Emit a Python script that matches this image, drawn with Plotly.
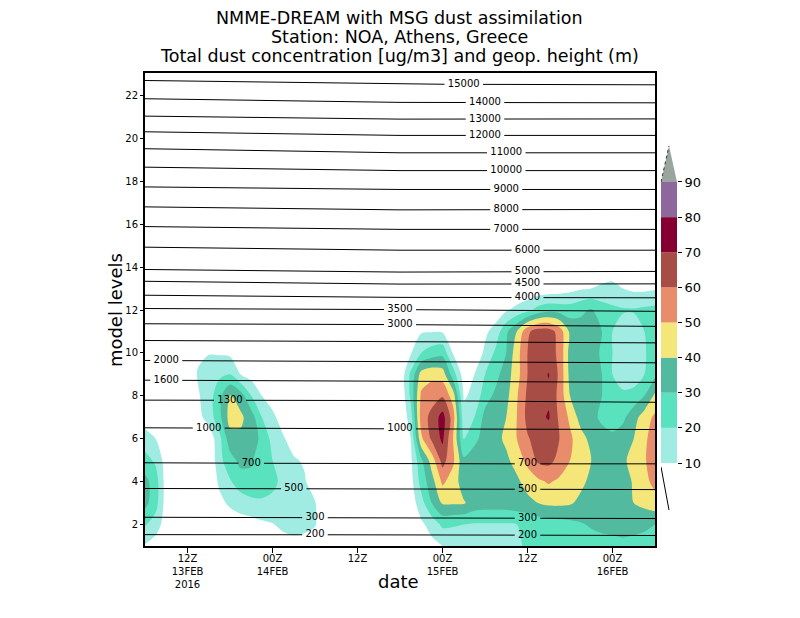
import numpy as np
import plotly.graph_objects as go

# ---- dust concentration (ug/m3), rows = model level 1..14, every 1.5 h from 06Z 13FEB
hours = np.arange(0, 72.1, 1.5)
model_levels = list(range(1, 15))

dust_l01 = [9, 5, 2, 0, 0, 0, 0, 0, 1, 2, 3, 4, 5, 6, 7, 7, 6, 3, 0, 0, 0, 0, 0, 0, 0,
            0, 3, 7, 10, 12, 13, 14, 15, 16, 17, 19, 21, 22, 22, 23, 24, 25, 26, 27, 27, 28, 28, 28, 28]
dust_l02 = [21, 15, 5, 1, 0, 0, 0, 1, 3, 5, 6, 8, 9.5, 12, 13, 12, 10.5, 5, 1, 0, 0, 0, 0, 0, 0,
            2, 8, 14, 22, 21, 20, 19, 19, 19, 19, 20, 22, 24, 25, 26, 27, 29, 31, 32, 33, 33, 32, 31, 30]
dust_l03 = [33, 24, 5, 1, 0, 1, 3, 7, 12, 15, 17, 18, 17, 16, 14, 13, 10.5, 5, 1, 0, 0, 0, 0, 0, 0,
            4, 16, 30, 41, 41, 41, 36, 35, 35, 35, 36, 37, 40, 42, 42, 41, 38, 36, 35, 35, 37, 40, 43, 46]
dust_l04 = [33, 25, 5, 1, 0, 0, 0, 12, 19, 25, 28, 27, 23, 17, 13, 11, 5, 1, 0, 0, 0, 0, 0, 0, 0,
            6, 24, 36, 52, 45, 35, 34, 33, 33, 34, 38, 44, 48, 51, 48, 45, 42, 38, 34, 33, 36, 41, 47, 53]
dust_l05 = [24, 18, 5, 1, 0, 0, 0, 17, 26, 33, 31, 25, 20, 15, 11, 9, 4, 1, 0, 0, 0, 0, 0, 0, 0,
            8, 28, 45, 64, 52, 32, 34, 35, 36, 38, 44, 53, 62, 63, 57, 50, 45, 40, 35, 35, 38, 44, 49, 55]
dust_l06 = [14, 10, 3, 0, 0, 1, 3, 17, 36, 38, 36, 27, 17, 11, 6, 3, 1, 0, 0, 0, 0, 0, 0, 0, 0,
            10, 48, 62, 72, 50, 19, 28, 33, 37, 42, 50, 59, 64, 63, 60, 52, 44, 37, 34, 33, 35, 40, 48, 55]
dust_l07 = [5, 3, 1, 0, 0, 7, 14, 27, 44, 42, 35, 20, 12, 6, 3, 1, 0, 0, 0, 0, 0, 0, 0, 0, 0,
            15, 55, 63, 74, 55, 13, 20, 33, 36, 40, 50, 63, 67, 71, 58, 48, 36, 33, 28, 24, 28, 36, 45, 52]
dust_l08 = [2, 0, 0, 0, 2, 9, 15, 27, 41, 35, 20, 10, 6, 3, 1, 0, 0, 0, 0, 0, 0, 0, 0, 0, 0,
            22, 52, 56, 59, 45, 9, 12, 26, 32, 37, 49, 62, 66, 68, 57, 40, 35, 34, 30, 24, 22, 24, 30, 42]
dust_l09 = [0, 0, 0, 0, 3, 11, 15, 18, 20, 10, 6, 3, 1, 0, 0, 0, 0, 0, 0, 0, 0, 0, 0, 0, 2,
            22, 44, 47, 45, 25, 5, 10, 20, 27, 35, 46, 60, 66, 70.5, 58, 37, 34, 34, 30, 20, 15, 14, 20, 28]
dust_l10 = [0, 0, 0, 0, 1, 8, 9.5, 9, 8, 6, 4, 2, 1, 0, 0, 0, 0, 0, 0, 0, 0, 0, 0, 0, 3,
            9, 20, 25, 27, 9, 5, 3, 12, 22, 30, 46, 60, 66, 64, 58, 36, 33, 33, 29, 20, 14, 13, 19, 25]
dust_l11 = [0, 0, 0, 0, 0, 0, 0, 0, 0, 0, 0, 0, 0, 0, 0, 0, 0, 0, 0, 0, 0, 0, 0, 0, 0,
            5, 9, 9.5, 9, 2, 1, 0, 8, 14, 28, 40, 58, 65, 65, 56, 38, 34, 32, 30, 20, 15, 14, 20, 28]
dust_l12 = [0, 0, 0, 0, 0, 0, 0, 0, 0, 0, 0, 0, 0, 0, 0, 0, 0, 0, 0, 0, 0, 0, 0, 0, 0,
            0, 0, 0, 0, 0, 0, 0, 2, 4, 9, 13, 17, 24, 27, 26, 25, 28, 31, 25, 22, 21, 21, 22, 23]
dust_l13 = [0, 0, 0, 0, 0, 0, 0, 0, 0, 0, 0, 0, 0, 0, 0, 0, 0, 0, 0, 0, 0, 0, 0, 0, 0,
            0, 0, 0, 0, 0, 0, 0, 0, 0, 0, 1, 2, 3, 4, 5, 7, 9, 10, 12, 13, 10, 8, 8, 9]
dust_l14 = [0, 0, 0, 0, 0, 0, 0, 0, 0, 0, 0, 0, 0, 0, 0, 0, 0, 0, 0, 0, 0, 0, 0, 0, 0,
            0, 0, 0, 0, 0, 0, 0, 0, 0, 0, 0, 0, 0, 0, 0, 0, 0, 2, 3, 4, 3, 2, 1, 1]

dust = [dust_l01, dust_l02, dust_l03, dust_l04, dust_l05, dust_l06, dust_l07,
        dust_l08, dust_l09, dust_l10, dust_l11, dust_l12, dust_l13, dust_l14]

# ---- geopotential height contours: model level where each height sits at 0h, 36h, 72h
height_m = [200, 300, 500, 700, 1000, 1300, 1600, 2000, 2500, 3000, 3500, 4000,
            4500, 5000, 6000, 7000, 8000, 9000, 10000, 11000, 12000, 13000, 14000, 15000]
lev_00h = [1.53, 2.34, 3.68, 4.88, 6.51, 7.80, 8.73, 9.65, 10.58, 11.36, 12.07, 12.69,
           13.34, 13.89, 14.93, 15.89, 16.81, 17.74, 18.66, 19.52, 20.31, 21.04, 21.85, 22.70]
lev_36h = [1.52, 2.31, 3.66, 4.83, 6.46, 7.78, 8.68, 9.58, 10.52, 11.32, 12.02, 12.59,
           13.21, 13.77, 14.79, 15.76, 16.67, 17.62, 18.50, 19.33, 20.14, 20.90, 21.68, 22.53]
lev_72h = [1.49, 2.28, 3.63, 4.83, 6.43, 7.70, 8.63, 9.54, 10.47, 11.24, 11.94, 12.57,
           13.22, 13.80, 14.79, 15.76, 16.69, 17.62, 18.50, 19.33, 20.14, 20.91, 21.66, 22.50]
node_hours = [0, 36, 72]

label_height = [15000, 14000, 13000, 12000, 11000, 10000, 9000, 8000, 7000, 6000, 5000, 4500,
                4000, 3500, 3000, 2000, 1600, 1300, 1000, 1000, 700, 700, 500, 500, 300, 300, 200, 200]
label_hour = [45, 48, 48, 48, 51, 51, 51, 51, 51, 54, 54, 54,
              54, 36, 36, 3, 3, 12, 9, 36, 15, 54, 21, 54, 24, 54, 24, 54]

# ---- colour bar
cbar_levels = [10, 20, 30, 40, 50, 60, 70, 80, 90]
band_colors = ["#a0ece2", "#5ae1be", "#52ba9e", "#f5e67a", "#e88c6c", "#a84d45", "#850030", "#8e689c"]
under_color = "#ffffff"
over_color = "#9ba5a0"

x_tickvals = [6, 18, 30, 42, 54, 66]
x_ticktext = ["12Z<br>13FEB<br>2016", "00Z<br>14FEB", "12Z", "00Z<br>15FEB", "12Z", "00Z<br>16FEB"]
y_tickvals = [2, 4, 6, 8, 10, 12, 14, 16, 18, 20, 22]

FONT = "DejaVu Sans"
px_per_hour = 510 / 72.0

fig = go.Figure()

all_colors = [under_color] + band_colors + [over_color]
fig.add_trace(go.Contour(
    x=hours, y=model_levels, z=dust,
    contours=dict(start=10, end=90, size=10, coloring="fill", showlines=False),
    colorscale=[[i / 9, c] for i, c in enumerate(all_colors)],
    line=dict(width=0, smoothing=0.8),
    showscale=False, hoverinfo="skip",
))

# height lines with gaps where labels sit
line_x, line_y = [], []
for k, h in enumerate(height_m):
    ys = [lev_00h[k], lev_36h[k], lev_72h[k]]
    gaps = []
    for lh, lhr in zip(label_height, label_hour):
        if lh == h:
            half = (len(str(lh)) * 6.5 / 2 + 3) / px_per_hour
            gaps.append((lhr - half, lhr + half))
    gaps.sort()
    starts = [0] + [g[1] for g in gaps]
    ends = [g[0] for g in gaps] + [72]
    for a, b in zip(starts, ends):
        xs = [a] + [n for n in node_hours if a < n < b] + [b]
        line_x += xs + [None]
        line_y += list(np.interp(xs, node_hours, ys)) + [None]

fig.add_trace(go.Scatter(x=line_x, y=line_y, mode="lines",
                         line=dict(color="black", width=1), hoverinfo="skip"))

label_y = []
for lh, lhr in zip(label_height, label_hour):
    k = height_m.index(lh)
    label_y.append(float(np.interp(lhr, node_hours, [lev_00h[k], lev_36h[k], lev_72h[k]])))
fig.add_trace(go.Scatter(x=label_hour, y=label_y, mode="text",
                         text=[str(v) for v in label_height], textposition="middle center",
                         textfont=dict(family=FONT, size=10, color="black"), hoverinfo="skip"))

# colour bar drawn on its own little axes
fig.add_trace(go.Bar(x=[0.5] * len(band_colors),
                     y=[hi - lo for lo, hi in zip(cbar_levels[:-1], cbar_levels[1:])],
                     base=cbar_levels[:-1], width=1, marker=dict(color=band_colors, line=dict(width=0)),
                     xaxis="x2", yaxis="y2", hoverinfo="skip"))
tip = cbar_levels[-1] + 10.3
fig.add_trace(go.Scatter(x=[0, 1, 0.5, 0], y=[90, 90, tip, 90], fill="toself", fillcolor=over_color,
                         mode="lines", line=dict(width=0), xaxis="x2", yaxis="y2", hoverinfo="skip"))
fig.add_trace(go.Scatter(x=[0, 0.5], y=[90, tip], mode="lines",
                         line=dict(color="#333333", width=1, dash="dot"),
                         xaxis="x2", yaxis="y2", hoverinfo="skip"))
fig.add_trace(go.Scatter(x=[0, 0.5], y=[cbar_levels[0] - 1.1, cbar_levels[0] - 13.4], mode="lines",
                         line=dict(color="black", width=1), xaxis="x2", yaxis="y2", hoverinfo="skip"))

axis_common = dict(showline=True, linecolor="black", linewidth=2, mirror=True,
                   showgrid=False, zeroline=False, ticks="outside", tickcolor="black",
                   tickfont=dict(family=FONT, size=10, color="black"))

# page body has an 8px margin, so the figure is 784x602 and shifted margins
fig.update_layout(
    width=784, height=602,
    margin=dict(l=137, r=92, t=65, b=64),
    paper_bgcolor="white", plot_bgcolor="white",
    showlegend=False, barmode="overlay",
    font=dict(family=FONT, color="black"),
    xaxis=dict(domain=[0, 510 / 555], range=[0, 72], tickvals=x_tickvals, ticktext=x_ticktext,
               ticklen=5, ticklabelstandoff=-3, **axis_common),
    yaxis=dict(range=[1, 23.05], tickvals=y_tickvals, ticklen=3, **axis_common),
    xaxis2=dict(domain=[516 / 555, 532 / 555], range=[0, 1], visible=False, anchor="y2"),
    yaxis2=dict(domain=[0, 1], range=[-13.63, 121.03], anchor="x2", side="right",
                tickvals=cbar_levels, ticks="outside", ticklen=4, tickcolor="black",
                showline=False, showgrid=False, zeroline=False,
                tickfont=dict(family=FONT, size=13, color="black")),
    annotations=[
        dict(text="NMME-DREAM with MSG dust assimilation", x=0.458, y=1.116),
        dict(text="Station: NOA, Athens, Greece", x=0.458, y=1.076),
        dict(text="Total dust concentration [ug/m3] and geop. height (m)", x=0.458, y=1.036),
        dict(text="date", x=0.456, y=-0.074, font=dict(family=FONT, size=18, color="black")),
        dict(text="model levels", x=-0.052, y=0.499, textangle=-90,
             font=dict(family=FONT, size=18, color="black")),
    ],
)
for a in fig.layout.annotations:
    a.update(xref="paper", yref="paper", showarrow=False, xanchor="center", yanchor="middle")
    if a.font.size is None:
        a.font = dict(family=FONT, size=17.5, color="black")

fig.write_html("out.html")
